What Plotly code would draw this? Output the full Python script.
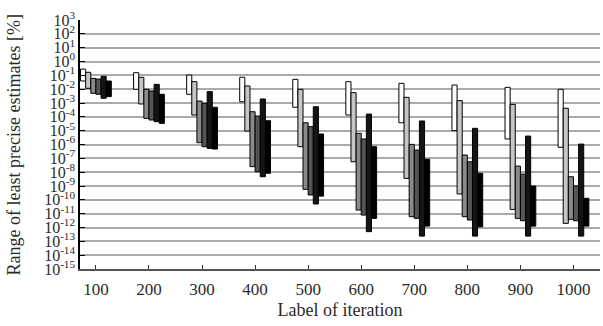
import numpy as np
import plotly.graph_objects as go

labels = ["100", "200", "300", "400", "500", "600", "700", "800", "900", "1000"]

# exponents (log10 of %): top and bottom of each range bar
s1_top = [-0.55, -0.81, -0.98, -1.14, -1.29, -1.46, -1.58, -1.70, -1.87, -2.01]
s1_bot = [-1.41, -2.01, -2.37, -2.91, -3.31, -3.87, -4.43, -5.00, -5.60, -6.20]
s2_top = [-0.78, -1.14, -1.46, -1.77, -2.01, -2.25, -2.59, -2.83, -3.10, -3.38]
s2_bot = [-1.94, -3.07, -3.87, -5.03, -6.16, -7.25, -8.45, -9.58, -10.69, -11.70]
s3_top = [-1.22, -2.01, -2.86, -3.63, -4.43, -5.19, -5.99, -6.76, -7.56, -8.33]
s3_bot = [-2.30, -4.11, -5.87, -7.60, -9.24, -10.74, -11.22, -11.22, -11.34, -11.41]
s4_top = [-1.27, -2.13, -3.02, -3.94, -4.71, -5.60, -6.40, -7.25, -8.14, -9.00]
s4_bot = [-2.37, -4.23, -6.16, -7.97, -9.65, -11.10, -11.34, -11.46, -11.51, -11.51]
s5_top = [-1.07, -1.65, -2.18, -2.71, -3.27, -3.80, -4.30, -4.83, -5.39, -5.97]
s5_bot = [-2.66, -4.35, -6.28, -8.33, -10.30, -12.30, -12.62, -12.62, -12.62, -12.62]
s6_top = [-1.41, -2.37, -3.31, -4.28, -5.24, -6.16, -7.07, -8.08, -9.00, -9.89]
s6_bot = [-2.54, -4.47, -6.33, -8.08, -9.73, -11.34, -11.90, -11.95, -11.90, -11.90]

series = [
    ("S1", s1_top, s1_bot, "#ffffff"),
    ("S2", s2_top, s2_bot, "#c6c6c6"),
    ("S3", s3_top, s3_bot, "#8a8a8a"),
    ("S4", s4_top, s4_bot, "#555555"),
    ("S5", s5_top, s5_bot, "#151515"),
    ("S6", s6_top, s6_bot, "#000000"),
]

tick_exps = list(range(3, -16, -1))
tick_vals = [10.0 ** e for e in tick_exps]
tick_text = ["10<sup>%d</sup>" % e for e in tick_exps]

FONT = "Liberation Serif, Times New Roman, serif"

fig = go.Figure()
for name, top, bot, color in series:
    hi = 10.0 ** np.array(top)
    lo = 10.0 ** np.array(bot)
    fig.add_trace(go.Bar(
        x=labels, y=hi - lo, base=lo, name=name,
        marker=dict(color=color, line=dict(color="#000000", width=1)),
    ))

fig.update_layout(
    width=603, height=326,
    margin=dict(l=80, r=3, t=20, b=57, autoexpand=False),
    paper_bgcolor="white", plot_bgcolor="white",
    barmode="group", bargap=0.42, bargroupgap=0,
    showlegend=False,
    font=dict(family=FONT, size=16, color="#2a2a2a"),
    xaxis=dict(
        type="category", range=[-0.3, 9.5], automargin=False,
        showline=True, linecolor="#555555", linewidth=1.5,
        ticks="inside", ticklen=4, tickcolor="#333333",
        tickfont=dict(family=FONT, size=17),
        ticklabelstandoff=4,
        title=dict(text="Label of iteration", font=dict(family=FONT, size=18), standoff=5),
        showgrid=False,
    ),
    yaxis=dict(
        type="log", range=[-15, 3], automargin=False,
        tickvals=tick_vals, ticktext=tick_text,
        tickfont=dict(family=FONT, size=16),
        showline=True, linecolor="#000000", linewidth=1.5,
        ticks="inside", ticklen=5, tickcolor="#000000",
        minor=dict(ticks="inside", ticklen=3, tickcolor="#000000", showgrid=False),
        showgrid=True, gridcolor="#aaaaaa", gridwidth=1.5,
        zeroline=False,
    ),
    annotations=[dict(
        text="Range of least precise estimates [%]",
        xref="paper", yref="paper", x=-0.127, y=0.5,
        xanchor="center", yanchor="middle", textangle=-90, showarrow=False,
        font=dict(family=FONT, size=18, color="#2a2a2a"),
    )],
)

fig.write_html(
    "out.html",
    config={"displayModeBar": False},
    post_script="document.body.style.margin='0';document.body.style.overflow='hidden';",
)
